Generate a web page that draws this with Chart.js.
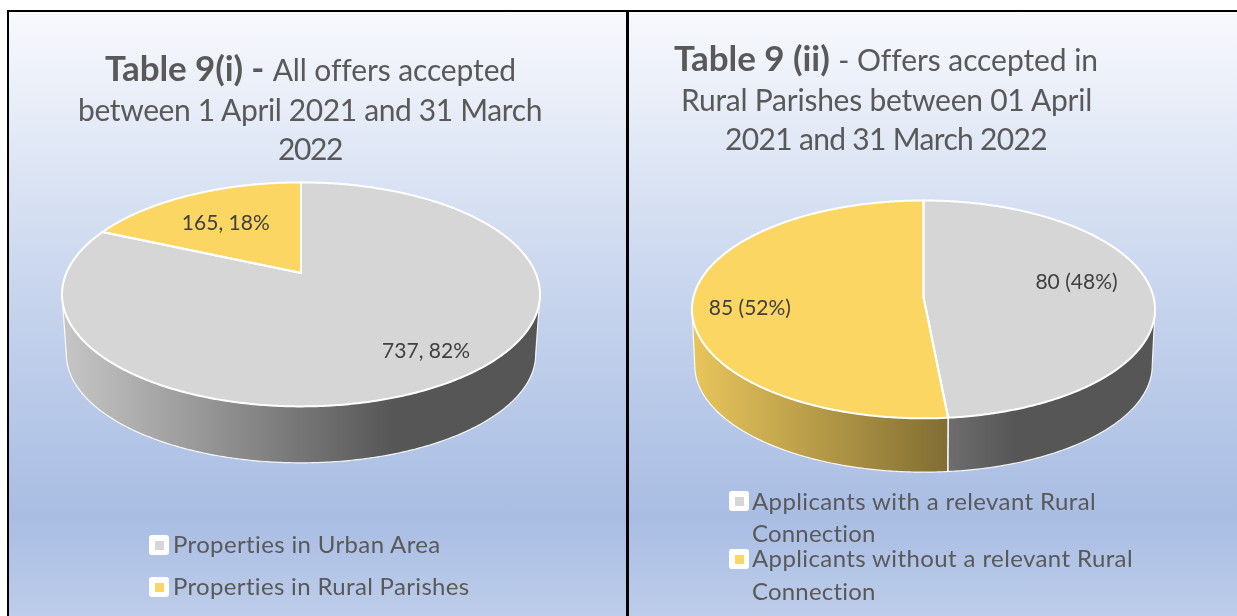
<!DOCTYPE html>
<html>
<head>
<meta charset="utf-8">
<script src="https://cdn.jsdelivr.net/npm/chart.js@4"></script>
<style>
html,body{margin:0;padding:0;background:#fff;width:1237px;height:616px;overflow:hidden;font-family:Lato,sans-serif}
.panel{position:absolute;top:12px;height:604px;background:linear-gradient(180deg,#f8f9fd 0px,#c6d4ed 288px,#a9bde3 505px,#bdcdea 604px)}
.rule{position:absolute;background:#000}
canvas{position:absolute;top:0}
.t{position:absolute;white-space:pre;transform:translateY(-50%);color:#595959;line-height:1}
.t b{font-weight:700}
.box{position:absolute;width:20px;height:20px;background:#fff;border-radius:3px}
.box i{position:absolute;left:5.5px;top:5.5px;width:9px;height:9px;display:block}
</style>
</head>
<body>
<div class="panel" style="left:9px;width:617px"></div>
<div class="panel" style="left:629px;width:608px"></div>
<div class="rule" style="left:7px;top:10px;width:1230px;height:2px"></div>
<div class="rule" style="left:7px;top:10px;width:2px;height:606px"></div>
<div class="rule" style="left:626px;top:10px;width:3px;height:606px"></div>
<div style="position:absolute;left:9px;top:0;width:617px;height:616px"><canvas id="left" width="617" height="616"></canvas></div>
<div style="position:absolute;left:629px;top:0;width:608px;height:616px"><canvas id="right" width="608" height="616"></canvas></div>
<script>
// ---- chart values ----
const leftCategories = ['Properties in Urban Area', 'Properties in Rural Parishes'];
const leftValues = [737, 165];
const leftValueLabels = ['737, 82%', '165, 18%'];
const leftTitleBold = 'Table 9(i) - ';
const leftTitleLines = ['All offers accepted', 'between 1 April 2021 and 31 March', '2022'];

const rightCategories = ['Applicants with a relevant Rural Connection', 'Applicants without a relevant Rural Connection'];
const rightValues = [80, 85];
const rightValueLabels = ['80 (48%)', '85 (52%)'];
const rightTitleBold = 'Table 9 (ii) ';
const rightTitleLines = ['- Offers accepted in', 'Rural Parishes between 01 April', '2021 and 31 March 2022'];

const sliceColors = ['#d6d6d6', '#fcd663'];

// ---- page text placement ----
function line(parent, html, x, yc, size, width, color) {
  const el = document.createElement('div');
  el.className = 't';
  el.innerHTML = html;
  el.style.left = x + 'px';
  el.style.top = yc + 'px';
  el.style.fontSize = size + 'px';
  if (color) el.style.color = color;
  document.body.appendChild(el);
  const n = el.textContent.length;
  el.style.letterSpacing = ((width - el.getBoundingClientRect().width) / n) + 'px';
  return el;
}
function bold(s){ return '<b style="font-size:35px">' + s + '</b>'; }
function swatch(x, y, c){
  const b = document.createElement('div');
  b.className = 'box'; b.style.left = x + 'px'; b.style.top = y + 'px';
  b.innerHTML = '<i style="background:' + c + '"></i>';
  document.body.appendChild(b);
}
line(document.body, bold(leftTitleBold) + leftTitleLines[0], 105, 67, 30, 410);
line(document.body, leftTitleLines[1], 78, 109, 30, 464);
line(document.body, leftTitleLines[2], 278, 148, 30, 64);
line(document.body, bold(rightTitleBold) + rightTitleLines[0], 674, 57, 30, 423);
line(document.body, rightTitleLines[1], 681, 99, 30, 411);
line(document.body, rightTitleLines[2], 725, 138, 30, 322);

swatch(149, 535, sliceColors[0]);
swatch(149, 577, sliceColors[1]);
line(document.body, leftCategories[0], 173, 544, 24, 268);
line(document.body, leftCategories[1], 173, 586, 24, 297);

function wrapped(text){ const i = text.lastIndexOf(' '); return [text.slice(0, i), text.slice(i + 1)]; }
swatch(729, 491, sliceColors[0]);
swatch(729, 549, sliceColors[1]);
line(document.body, wrapped(rightCategories[0])[0], 752, 501, 24, 344);
line(document.body, wrapped(rightCategories[0])[1], 752, 533, 24, 124);
line(document.body, wrapped(rightCategories[1])[0], 752, 558, 24, 381);
line(document.body, wrapped(rightCategories[1])[1], 752, 591, 24, 124);

// ---- perspective pie drawn from the library's arc elements ----
const shadeStops = [[0, 0.92], [0.7, 0.40], [1, 0.40]];
function shade(hex, f){
  const n = parseInt(hex.slice(1), 16);
  return 'rgb(' + [n >> 16 & 255, n >> 8 & 255, n & 255].map(c => Math.round(c * f)).join(',') + ')';
}
const pie3d = {
  id: 'pie3d',
  beforeDatasetsDraw(chart, args, o) {
    const ctx = chart.ctx;
    const arcs = chart.getDatasetMeta(0).data;
    const first = arcs[0];
    const cx = first.x, cy = first.y, R = first.outerRadius;
    const P = (a, r, base) => {
      const u = Math.cos(a) * r, v = Math.sin(a) * r;
      const w = 1 - o.persp * v;
      const sx = base ? o.baseScale : 1;
      const sy = base ? o.baseScaleY : 1;
      const dy = base ? o.baseDrop : 0;
      return [cx + R * sx * u / w, cy + dy + R * sy * o.tilt * v / w];
    };
    const span = (a0, a1, r, base, first_) => {
      const n = Math.max(2, Math.ceil(Math.abs(a1 - a0) / 0.01));
      for (let i = 0; i <= n; i++) {
        const p = P(a0 + (a1 - a0) * i / n, r, base);
        if (i === 0 && first_) ctx.moveTo(p[0], p[1]); else ctx.lineTo(p[0], p[1]);
      }
    };
    // the wall runs between the two points where the rim is widest
    const lo = Math.asin(o.persp), hi = Math.PI - lo;
    ctx.save();
    // side wall
    arcs.forEach((arc) => {
      const s = Math.max(arc.startAngle, lo), e = Math.min(arc.endAngle, hi);
      if (e <= s) return;
      const g = ctx.createLinearGradient(cx - R, 0, cx + R, 0);
      shadeStops.forEach(st => g.addColorStop(st[0], shade(arc.options.backgroundColor, st[1])));
      ctx.beginPath();
      span(s, e, 1, false, true);
      span(e, s, 1, true, false);
      ctx.closePath();
      ctx.fillStyle = g;
      ctx.fill();
    });
    ctx.strokeStyle = 'rgba(255,255,255,0.9)';
    ctx.lineWidth = 1.2;
    arcs.forEach(arc => {
      const s = Math.max(arc.startAngle, lo), e = Math.min(arc.endAngle, hi);
      if (e <= s) return;
      ctx.beginPath();
      span(s, e, 1, true, true);
      ctx.stroke();
      [s, e].forEach(edge => {
        const a = P(edge, 1, false), b = P(edge, 1, true);
        ctx.beginPath(); ctx.moveTo(a[0], a[1]); ctx.lineTo(b[0], b[1]); ctx.stroke();
      });
    });
    // top face
    arcs.forEach(arc => {
      ctx.beginPath();
      const c = P(0, 0, false);
      ctx.moveTo(c[0], c[1]);
      span(arc.startAngle, arc.endAngle, 1, false, false);
      ctx.closePath();
      ctx.fillStyle = arc.options.backgroundColor;
      ctx.fill();
    });
    arcs.forEach(arc => {
      ctx.beginPath();
      const c = P(0, 0, false);
      ctx.moveTo(c[0], c[1]);
      span(arc.startAngle, arc.endAngle, 1, false, false);
      ctx.closePath();
      ctx.strokeStyle = arc.options.borderColor;
      ctx.lineWidth = arc.options.borderWidth;
      ctx.lineJoin = 'round';
      ctx.stroke();
    });
    // value labels
    ctx.fillStyle = '#404040';
    ctx.font = o.labelFont;
    ctx.textAlign = 'center';
    ctx.textBaseline = 'middle';
    arcs.forEach((arc, i) => {
      const p = P((arc.startAngle + arc.endAngle) / 2, o.labelRadius[i], false);
      ctx.fillText(o.labels[i], p[0] + o.labelShift[i][0], p[1] + o.labelShift[i][1]);
    });
    ctx.restore();
    return false;
  }
};

function build(id, categories, values, padding, opts) {
  return new Chart(document.getElementById(id), {
    type: 'pie',
    data: { labels: categories, datasets: [{ data: values, backgroundColor: sliceColors, borderColor: '#ffffff', borderWidth: 2 }] },
    options: {
      responsive: false,
      animation: false,
      layout: { padding },
      plugins: { legend: { display: false }, tooltip: { enabled: false }, title: { display: false }, pie3d: opts }
    },
    plugins: [pie3d]
  });
}

build('left', leftCategories, leftValues,
  { left: 56.4, right: 89.4, top: 37.4, bottom: 107.4 },
  { persp: 0.191, tilt: 0.46, baseScale: 0.982, baseScaleY: 0.971, baseDrop: 60.3,
    labels: leftValueLabels, labelRadius: [0.8, 0.68], labelShift: [[8, -5], [3, 6]], labelFont: '21px Lato' });

build('right', rightCategories, rightValues,
  { left: 63.5, right: 82.5, top: 66, bottom: 88 },
  { persp: 0.114, tilt: 0.4675, baseScale: 0.988, baseScaleY: 0.98, baseDrop: 56.2,
    labels: rightValueLabels, labelRadius: [0.8, 0.8], labelShift: [[-30, -11], [11, 7]], labelFont: '21px Lato' });
</script>
</body>
</html>
